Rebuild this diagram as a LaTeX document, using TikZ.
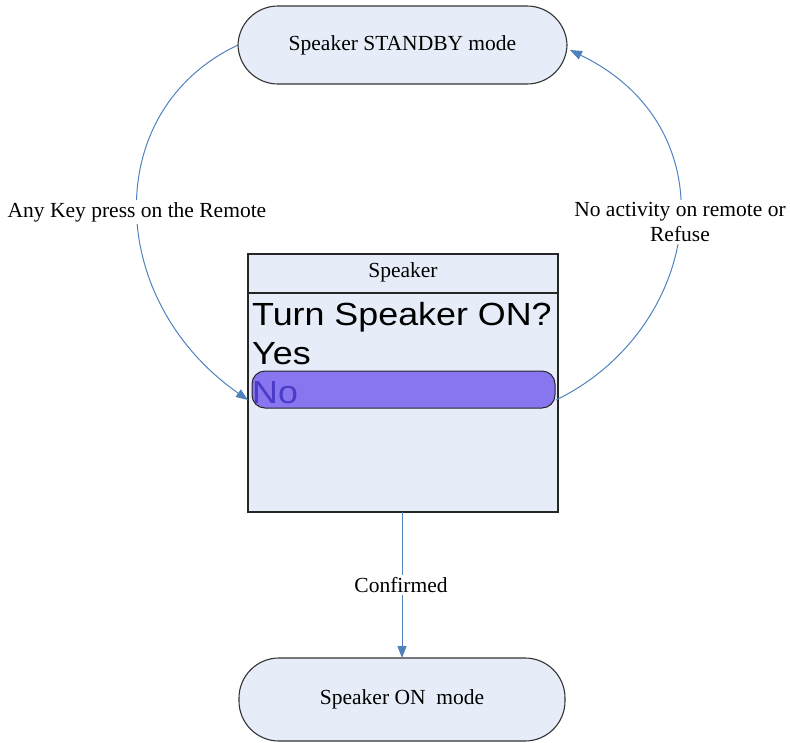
\documentclass[tikz,border=0pt]{standalone}
\usepackage{fontspec}
\setmainfont{Liberation Serif}
\newfontfamily\boxsans[FakeStretch=1.12]{Liberation Sans}
\usetikzlibrary{arrows.meta}
\definecolor{linkblue}{RGB}{79,129,189}
\definecolor{boxfill}{RGB}{230,236,248}
\definecolor{barfill}{RGB}{136,118,240}
\definecolor{notext}{RGB}{75,60,200}
\tikzset{
  stadium/.style={draw=black!80, line width=1.1pt, fill=boxfill, rounded corners=40pt},
  link/.style={draw=linkblue, line width=1pt, -{Triangle[length=12pt,width=9pt]}},
  lbl/.style={fill=white, inner sep=2pt, font=\fontsize{21.5}{25}\selectfont, align=center},
  stxt/.style={font=\fontsize{21.5}{25}\selectfont},
  bigtxt/.style={font=\boxsans\fontsize{32}{34}\selectfont, anchor=base west, inner sep=0pt}
}
\begin{document}
\begin{tikzpicture}[x=1pt,y=-1pt]
\useasboundingbox (0,0) rectangle (790,742);
% top stadium
\draw[stadium] (238,6) rectangle (567,84);
\node[stxt] (standby) at (402.5,45) {Speaker STANDBY mode};
\coordinate (standbyL) at (238,45);
\coordinate (standbyR) at (570,50);
% bottom stadium
\draw[stadium] (239,658) rectangle (565,741);
\node[stxt] (on) at (402,699) {Speaker ON\ \ mode};
\coordinate (onTop) at (402,658);
% screen box
\draw[draw=black!85, line width=1.1pt, fill=boxfill] (248,254) rectangle (558,512);
\draw[draw=black!85, line width=1.1pt] (248,293) -- (558,293);
\coordinate (boxBottom) at (402,512);
\node[stxt] (header) at (403,272) {Speaker};
\node[bigtxt] (turn) at (252,325) {Turn Speaker ON?};
\node[bigtxt] (yes) at (252,364) {Yes};
\draw[draw=black!85, line width=1pt, fill=barfill, rounded corners=13pt] (252,371) rectangle (555,408);
\node[bigtxt, text=notext] (no) at (252,403) {No};
\coordinate (barL) at (248,400);
\coordinate (barR) at (556,400);
% connectors
\draw[link] (standbyL) .. controls (100,110) and (105,300) .. (barL);
\draw[link] (barR) .. controls (700,330) and (735,130) .. (standbyR);
\draw[link] (boxBottom) -- (onTop);
% labels
\node[lbl] (anykey) at (137,212) {Any Key press on the Remote};
\node[lbl] (noact) at (680,222) {No activity on remote or\\Refuse};
\node[lbl] (conf) at (401,585) {Confirmed};
\end{tikzpicture}
\end{document}
